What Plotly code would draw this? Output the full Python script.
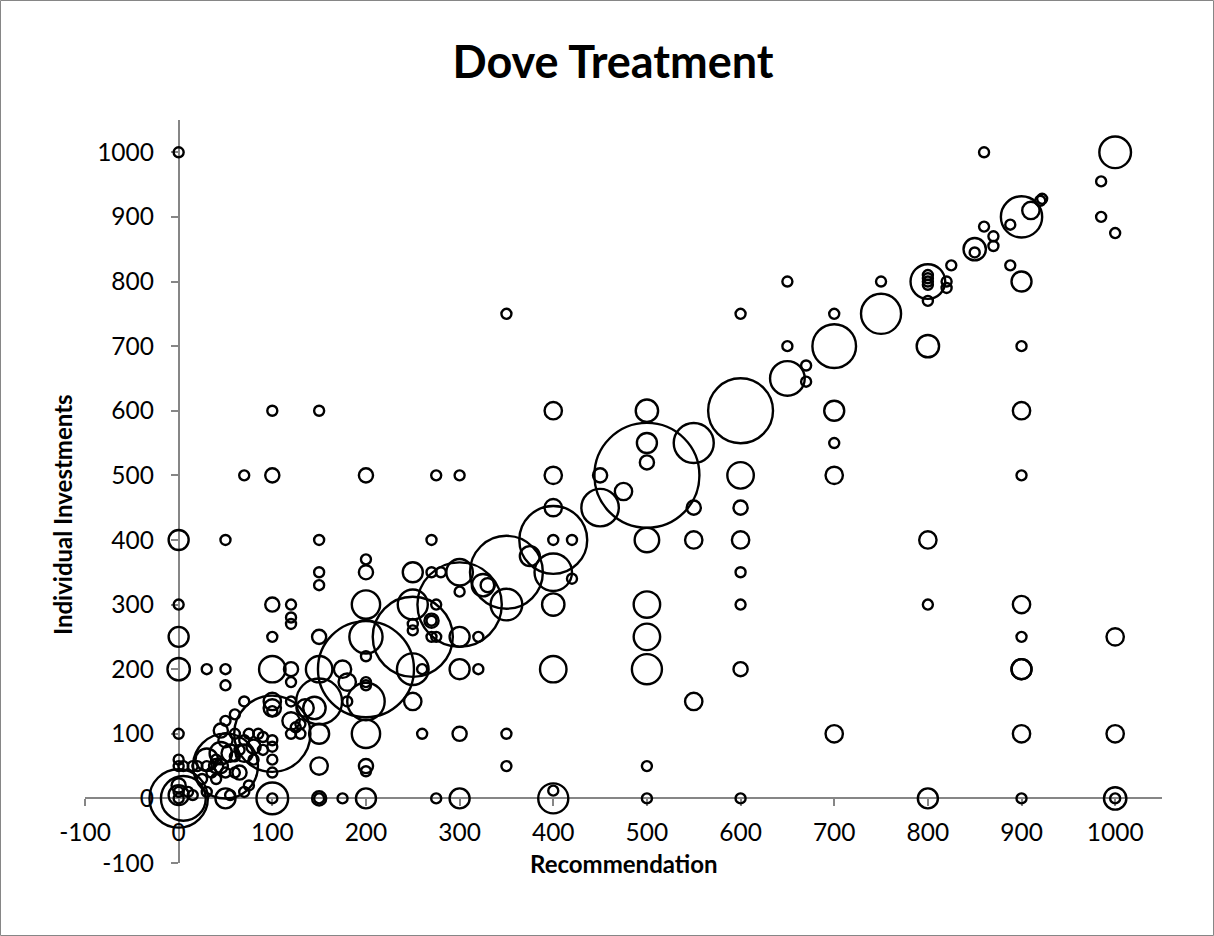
import plotly.graph_objects as go

# ---------------- data ----------------
# Recommendation (x), Individual investment (y), number of observations (bubble size)
recommendation = [
    # diagonal (large bubbles)
    0, 50, 100, 150, 200, 250, 300, 350, 400, 450, 500, 550, 600, 650, 700, 750, 800, 850, 900, 1000,
    # origin cluster
    5, 0, 0, 0, 0, 10, 15,
    # x = 0 column
    0, 0, 0, 0, 0, 0, 0, 0,
    # 5..95 region
    30, 50, 50, 50, 70, 70, 60, 50, 45,
    5, 15, 20, 30, 40, 40, 45, 55, 60, 65, 70, 70, 75, 80, 85, 90, 90, 60, 50, 35, 50, 60, 65, 40, 25, 55, 50, 70, 75, 30, 80, 30, 45,
    # x = 100
    100, 100, 100, 100, 100, 100, 100, 100, 100, 100, 100, 100, 100, 100,
    # x = 120..150
    120, 120, 120, 120, 120, 120, 120, 125, 130, 120, 130, 135, 145,
    150, 150, 150, 150, 150, 150, 150, 150, 150, 150,
    # x = 175..200
    175, 180, 180, 175,
    200, 200, 200, 200, 200, 200, 200, 200, 200, 200, 200, 200, 200,
    # x = 250..280
    250, 250, 250, 250, 250, 250, 260, 260,
    270, 275, 270, 280, 275, 270, 270, 270, 275, 275,
    # x = 300..375
    300, 300, 300, 300, 300, 300, 300,
    320, 320, 325, 330,
    350, 350, 350, 350, 375,
    # x = 400..475
    400, 400, 400, 400, 420, 400, 420, 400, 400, 400, 400, 450, 475,
    # x = 500..600
    500, 500, 500, 500, 500, 500, 500, 500, 500,
    550, 550, 550,
    600, 600, 600, 600, 600, 600, 600, 600,
    # x = 650..750
    650, 650, 670, 670, 700, 700, 700, 700, 700, 750,
    # x = 800..890
    800, 800, 800, 800, 800, 800, 800, 800, 800, 820, 820, 825,
    850, 860, 860, 870, 870, 888, 888,
    # x = 900..1000
    900, 900, 900, 900, 900, 900, 900, 900, 900, 900, 910, 920, 922,
    985, 985, 1000, 1000, 1000, 1000, 1000,
]
investment = [
    # diagonal (large bubbles)
    0, 50, 100, 150, 200, 250, 300, 350, 400, 450, 500, 550, 600, 650, 700, 750, 800, 850, 900, 1000,
    # origin cluster
    0, 5, 0, 10, 20, 10, 5,
    # x = 0 column
    1000, 400, 300, 250, 200, 100, 60, 50,
    # 5..95 region
    200, 200, 175, 400, 500, 150, 130, 120, 105,
    50, 50, 50, 50, 50, 60, 70, 70, 65, 75, 70, 90, 100, 80, 100, 95, 75, 100, 90, 40, 40, 40, 40, 30, 30, 5, 0, 10, 20, 10, 60, 60, 50,
    # x = 100
    600, 500, 300, 250, 200, 150, 140, 135, 90, 80, 60, 40, 0, 0,
    # x = 120..150
    300, 280, 270, 200, 180, 150, 120, 110, 115, 100, 100, 140, 140,
    600, 400, 350, 330, 250, 200, 100, 50, 0, 0,
    # x = 175..200
    200, 180, 150, 0,
    500, 370, 350, 300, 250, 220, 180, 175, 150, 100, 50, 42, 0,
    # x = 250..280
    350, 300, 270, 260, 200, 150, 200, 100,
    400, 500, 350, 350, 300, 275, 275, 250, 250, 0,
    # x = 300..375
    500, 350, 320, 250, 200, 100, 0,
    250, 200, 330, 330,
    750, 300, 100, 50, 375,
    # x = 400..475
    600, 500, 450, 400, 400, 350, 340, 300, 200, 12, 0, 500, 475,
    # x = 500..600
    600, 550, 520, 400, 300, 250, 200, 50, 0,
    450, 400, 150,
    750, 500, 450, 400, 350, 300, 200, 0,
    # x = 650..750
    800, 700, 670, 645, 750, 600, 550, 500, 100, 800,
    # x = 800..890
    700, 400, 300, 0, 810, 805, 800, 795, 770, 800, 790, 825,
    845, 1000, 885, 870, 855, 888, 825,
    # x = 900..1000
    800, 700, 600, 500, 300, 250, 200, 200, 100, 0, 910, 925, 928,
    955, 900, 875, 250, 100, 0, 0,
]
observations = [
    # diagonal (large bubbles)
    34, 42, 58, 21, 92, 64, 71, 53, 46, 14, 110, 16, 42, 12, 19, 16, 12, 5, 17, 10,
    # origin cluster
    20, 4, 1, 1, 2, 1, 1,
    # x = 0 column
    1, 4, 1, 4, 5, 1, 1, 1,
    # 5..95 region
    1, 1, 1, 1, 1, 1, 1, 1, 2,
    1, 1, 1, 1, 2, 1, 5, 3, 1, 1, 3, 1, 1, 2, 1, 1, 1, 1, 2, 1, 1, 1, 2, 1, 1, 1, 4, 1, 1, 1, 1, 5, 2,
    # x = 100
    1, 2, 2, 1, 7, 3, 3, 1, 1, 1, 1, 1, 10, 1,
    # x = 120..150
    1, 1, 1, 2, 1, 1, 3, 1, 1, 1, 1, 3, 5,
    1, 1, 1, 1, 2, 7, 4, 3, 2, 1,
    # x = 175..200
    3, 3, 1, 1,
    2, 1, 2, 8, 11, 1, 1, 1, 14, 8, 2, 1, 4,
    # x = 250..280
    4, 9, 1, 1, 10, 3, 1, 1,
    1, 1, 1, 1, 1, 2, 1, 1, 1, 1,
    # x = 300..375
    1, 7, 1, 4, 4, 2, 4,
    1, 1, 5, 2,
    1, 10, 1, 1, 4,
    # x = 400..475
    3, 3, 3, 1, 1, 14, 1, 5, 7, 1, 9, 2, 3,
    # x = 500..600
    5, 4, 2, 6, 7, 7, 9, 1, 1,
    2, 3, 3,
    1, 7, 2, 3, 1, 1, 2, 1,
    # x = 650..750
    1, 1, 1, 1, 1, 4, 1, 3, 3, 1,
    # x = 800..890
    5, 3, 1, 4, 1, 1, 1, 1, 1, 1, 1, 1,
    1, 1, 1, 1, 1, 1, 1,
    # x = 900..1000
    4, 1, 3, 1, 3, 1, 4, 4, 3, 1, 3, 1, 1,
    1, 1, 1, 3, 3, 5, 1,
]
axis_ticks = [-100, 0, 100, 200, 300, 400, 500, 600, 700, 800, 900, 1000]

chart_title = "Dove Treatment"
x_title = "Recommendation"
y_title = "Individual Investments"

# ---------------- figure ----------------
AXIS_MIN, AXIS_MAX = -100, 1050
cross = (0 - AXIS_MIN) / (AXIS_MAX - AXIS_MIN)  # where the value 0 sits on each axis

max_diam = 105.0
sizeref = 2.0 * max(observations) / (max_diam ** 2)

fig = go.Figure(
    go.Scatter(
        x=recommendation,
        y=investment,
        mode="markers",
        marker=dict(
            size=observations,
            sizemode="area",
            sizeref=sizeref,
            color="rgba(0,0,0,0)",
            opacity=1,
            line=dict(color="black", width=2.4),
        ),
        hoverinfo="skip",
        cliponaxis=False,
    )
)

axis_common = dict(
    range=[AXIS_MIN, AXIS_MAX],
    tickmode="array",
    tickvals=axis_ticks,
    ticktext=[str(t) for t in axis_ticks],
    showline=True,
    linecolor="#868686",
    linewidth=1.5,
    ticks="outside",
    ticklen=7,
    tickwidth=1.5,
    tickcolor="#868686",
    showgrid=False,
    zeroline=False,
    layer="below traces",
    anchor="free",
    position=cross,
    tickfont=dict(family="Lato", size=24.5, color="black"),
)

W, H = 1214, 936
ML, MR, MT, MB = 85, 52, 120, 73
PW, PH = W - ML - MR, H - MT - MB

fig.update_layout(
    width=W,
    height=H,
    margin=dict(l=ML, r=MR, t=MT, b=MB),
    paper_bgcolor="white",
    plot_bgcolor="white",
    showlegend=False,
    font=dict(family="Lato", color="black"),
    title=dict(
        text=chart_title,
        font=dict(family="Lato", size=45, color="black", weight="bold"),
        x=0.505,
        xanchor="center",
        xref="container",
        y=1 - 62 / H,
        yanchor="middle",
        yref="container",
    ),
    xaxis=dict(axis_common, ticklabelstandoff=5),
    yaxis=dict(axis_common, ticklabelstandoff=12),
    annotations=[
        dict(
            text=x_title,
            xref="paper", yref="paper",
            x=0.5, y=(PH + MT - 864) / PH,
            xanchor="center", yanchor="middle",
            showarrow=False,
            font=dict(family="Lato", size=24, color="black", weight="bold"),
        ),
        dict(
            text=y_title,
            xref="paper", yref="paper",
            x=(62 - ML) / PW, y=(PH + MT - 515) / PH,
            xanchor="center", yanchor="middle",
            textangle=-90,
            showarrow=False,
            font=dict(family="Lato", size=24, color="black", weight="bold"),
        ),
    ],
    shapes=[
        dict(
            type="rect", xref="paper", yref="paper",
            x0=(0.5 - ML) / PW, x1=(W - 0.5 - ML) / PW,
            y0=(PH + MT - (H - 0.5)) / PH, y1=(PH + MT - 0.5) / PH,
            line=dict(color="#868686", width=1),
            fillcolor="rgba(0,0,0,0)",
        )
    ],
)

fig.write_html(
    "out.html",
    config={"displayModeBar": False},
    post_script="document.body.style.margin='0';",
)
